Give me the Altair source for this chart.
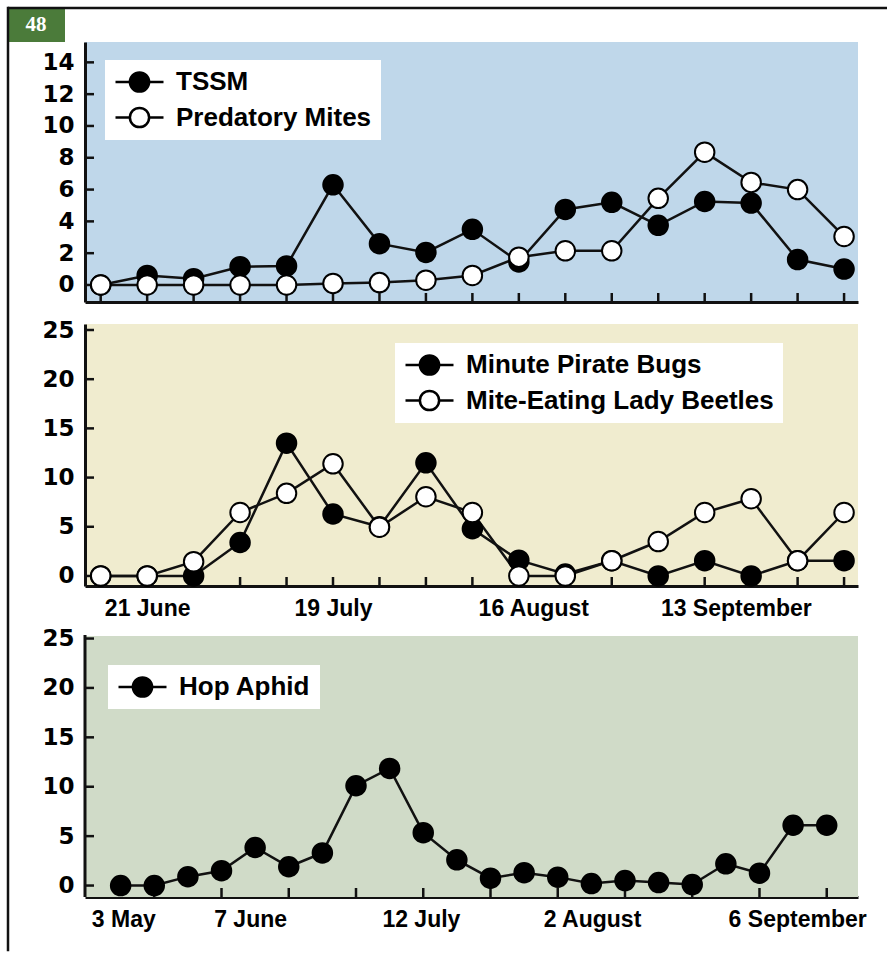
import altair as alt
import pandas as pd

# ---------------- data ----------------
# Panel 1: TSSM vs predatory mites (17 sample dates)
p1_idx = list(range(1, 18))
tssm = [0, 0.6, 0.4, 1.15, 1.2, 6.3, 2.6, 2.05, 3.5, 1.45, 4.75, 5.2, 3.75, 5.25, 5.15, 1.6, 1.0]
pred_mites = [0, 0, 0, 0, 0, 0.1, 0.15, 0.3, 0.6, 1.75, 2.15, 2.15, 5.45, 8.35, 6.45, 6.0, 3.05]
p1_names = ["TSSM", "Predatory Mites"]
p1_yticks = [0, 2, 4, 6, 8, 10, 12, 14]
p1_xticks = list(range(1, 18))

# Panel 2: minute pirate bugs vs mite-eating lady beetles
p2_idx = list(range(1, 18))
pirate = [0, 0, 0, 3.4, 13.5, 6.3, 5.0, 11.5, 4.8, 1.6, 0.2, 1.55, 0, 1.55, 0, 1.55, 1.55]
lady = [0, 0, 1.45, 6.45, 8.4, 11.4, 4.95, 8.05, 6.45, 0, 0, 1.55, 3.5, 6.45, 7.85, 1.55, 6.45]
p2_names = ["Minute Pirate Bugs", "Mite-Eating Lady Beetles"]
p2_yticks = [0, 5, 10, 15, 20, 25]
p2_xticks = list(range(1, 18))
p2_label_pos = [2, 6, 10.31, 14.67]
p2_label_text = ["21 June", "19 July", "16 August", "13 September"]

# Panel 3: hop aphid (22 sample dates)
p3_idx = list(range(1, 23))
aphid = [0, 0, 0.9, 1.5, 3.85, 1.9, 3.3, 10.1, 11.85, 5.35, 2.6, 0.75, 1.3, 0.85,
         0.2, 0.5, 0.3, 0.1, 2.2, 1.25, 6.1, 6.1]
p3_names = ["Hop Aphid"]
p3_yticks = [0, 5, 10, 15, 20, 25]
p3_xticks = list(range(2, 23, 2))
p3_label_pos = [1.08, 4.85, 9.93, 15.02, 21.12]
p3_label_text = ["3 May", "7 June", "12 July", "2 August", "6 September"]

# ---------------- style ----------------
W = 773
INK = "#111111"
SYMBOL = "M-1,0H-0.4M0.4,0H1M0.4,0A0.4,0.4,0,1,1,-0.4,0A0.4,0.4,0,1,1,0.4,0Z"
ONE = pd.DataFrame({"k": [0]})


def panel(idx, series, names, xdom, ydom, height, yticks, xticks, bg,
          legend_xy, label_pos=None, label_text=None, top_gap=0, extras=()):
    rows = []
    for name, vals in zip(names, series):
        for i, v in zip(idx, vals):
            rows.append({"idx": i, "value": v, "series": name})
    df = pd.DataFrame(rows)
    xs = alt.Scale(domain=xdom, zero=False, nice=False)
    ys = alt.Scale(domain=ydom, zero=False, nice=False)

    if label_pos:
        expr = ("[" + ",".join("'%s'" % t for t in label_text) + "][indexof(["
                + ",".join(str(p) for p in label_pos) + "], datum.value)]")
        xaxis = alt.Axis(values=label_pos, labelExpr=expr, ticks=False,
                         labelPadding=11, labelFont="Liberation Sans", labelFontSize=23,
                         labelFontWeight="bold", labelColor="black", labelFlush=False,
                         labelOverlap=False, domainColor=INK, domainWidth=3,
                         grid=False, title="")
    else:
        xaxis = alt.Axis(labels=False, ticks=False, domainColor=INK,
                         domainWidth=3, grid=False, title="")
    yaxis = alt.Axis(values=yticks, ticks=False, labelPadding=11,
                     labelFont="DejaVu Sans", labelFontSize=23, labelFontWeight="bold",
                     labelColor="black", labelFlush=False, labelOverlap=False,
                     domain=(top_gap == 0), domainColor=INK, domainWidth=3,
                     grid=False, title="")

    layers = []
    if top_gap:
        # coloured plot background below the white strip
        layers.append(alt.Chart(ONE).mark_rect(color=bg).encode(
            x=alt.value(0), x2=alt.value(W), y=alt.value(top_gap), y2=alt.value(height)))
        layers.append(alt.Chart(ONE).mark_rule(color=INK, strokeWidth=3).encode(
            x=alt.value(0), y=alt.value(top_gap - 1), y2=alt.value(height)))

    xt = alt.Chart(pd.DataFrame({"t": xticks})).mark_rule(color=INK, strokeWidth=2.5).encode(
        x=alt.X("t:Q", scale=xs, axis=xaxis),
        y=alt.value(height), y2=alt.value(height - 9))
    yt = alt.Chart(pd.DataFrame({"t": yticks})).mark_rule(color=INK, strokeWidth=2.5).encode(
        y=alt.Y("t:Q", scale=ys, axis=yaxis),
        x=alt.value(0), x2=alt.value(9))

    lines = alt.Chart(df).mark_line(color=INK, strokeWidth=2.5).encode(
        x=alt.X("idx:Q", scale=xs, axis=xaxis),
        y=alt.Y("value:Q", scale=ys, axis=yaxis),
        detail="series:N")

    fill_range = ["black", "white"][:len(names)]
    pts = alt.Chart(df).mark_point(filled=True, size=380, stroke="black",
                                   strokeWidth=2, opacity=1).encode(
        x=alt.X("idx:Q", scale=xs, axis=xaxis),
        y=alt.Y("value:Q", scale=ys, axis=yaxis),
        fill=alt.Fill("series:N", scale=alt.Scale(domain=names, range=fill_range),
                      legend=alt.Legend(
                          orient="none", legendX=legend_xy[0], legendY=legend_xy[1],
                          title=None, direction="vertical", fillColor="white",
                          padding=9, clipHeight=26, rowPadding=9.5,
                          symbolType=SYMBOL, symbolSize=2304, symbolOpacity=1,
                          symbolStrokeColor="black", symbolStrokeWidth=2.5,
                          labelFont="Liberation Sans", labelFontSize=26,
                          labelFontWeight="bold", labelColor="black",
                          labelOffset=11, labelLimit=600)))

    layers += [xt, yt, lines, pts] + list(extras)
    if top_gap:
        view = alt.ViewBackground(strokeWidth=0)
    else:
        view = alt.ViewBackground(fill=bg, strokeWidth=0)
    return alt.layer(*layers).properties(width=W, height=height, view=view)


# frame and page badge (decoration, pixel offsets from the first panel)
frame_v = alt.Chart(ONE).mark_rule(color=INK, strokeWidth=2.5, strokeCap="square").encode(
    x=alt.value(-77), y=alt.value(-34), y2=alt.value(908))
frame_h = alt.Chart(ONE).mark_rule(color=INK, strokeWidth=2.5).encode(
    x=alt.value(-77), x2=alt.value(802), y=alt.value(-34))
badge = alt.Chart(ONE).mark_rect(color="#4B7B3A").encode(
    x=alt.value(-77), x2=alt.value(-20), y=alt.value(-34), y2=alt.value(0))
badge_text = alt.Chart(ONE).mark_text(
    text="48", font="Liberation Serif", fontSize=21, fontWeight="bold",
    color="white", align="center", baseline="middle").encode(
    x=alt.value(-49), y=alt.value(-17))

p1 = panel(p1_idx, [tssm, pred_mites], p1_names, [0.662, 17.30], [-1.07, 15.28], 260,
           p1_yticks, p1_xticks, "#BFD7EA", (20, 18),
           extras=(badge, frame_v, frame_h, badge_text))
p2 = panel(p2_idx, [pirate, lady], p2_names, [0.662, 17.30], [-1.02, 25.61], 262,
           p2_yticks, p2_xticks, "#F0ECCF", (310, 19),
           label_pos=p2_label_pos, label_text=p2_label_text)
p3 = panel(p3_idx, [aphid], p3_names, [-0.06, 22.93], [-1.16, 28.09], 289,
           p3_yticks, p3_xticks, "#D0DBC8", (23, 57),
           label_pos=p3_label_pos, label_text=p3_label_text, top_gap=28)

chart = alt.vconcat(p1, p2, p3, spacing=22, bounds="flush").resolve_scale(
    x="independent", y="independent", fill="independent"
).resolve_legend(fill="independent").properties(
    padding={"left": 6, "top": 6, "right": 0, "bottom": 0},
    background="white",
).configure_view(strokeWidth=0)

chart.save("out.html", embed_options={"renderer": "svg", "actions": False})
